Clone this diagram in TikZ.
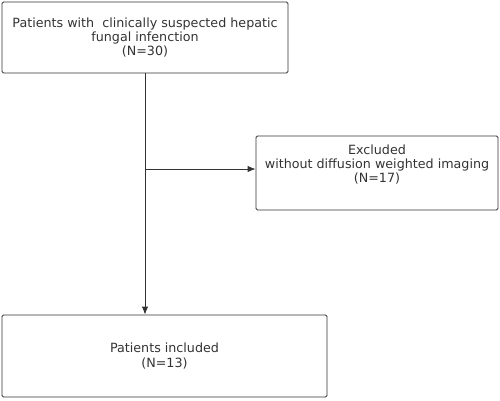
\documentclass[tikz,border=0pt]{standalone}
\usepackage{fontspec}
\setmainfont{DejaVu Sans}
\usepackage{tikz}
\usetikzlibrary{arrows.meta}

\begin{document}
\begin{tikzpicture}[
    x=1pt, y=-1pt,
    box/.style={rectangle, draw=black!80, line width=0.9pt, rounded corners=1.5pt, align=center, font=\fontsize{12.7}{14.2}\selectfont, text=black!80},
    arrow/.style={->, line width=0.9pt, draw=black!80},
    >={Latex[length=8pt,width=6.5pt]}
]
\useasboundingbox (0,0) rectangle (500,400);

% Boxes
\node[box, minimum width=286pt, minimum height=71pt] (suspected) at (145,37.5) {Patients with\ \ clinically suspected hepatic\\fungal infenction\\(N=30)};
\node[box, minimum width=242pt, minimum height=74pt, text depth=19pt] (excluded) at (377,173) {Excluded\\without diffusion weighted imaging\\(N=17)};
\node[box, minimum width=325pt, minimum height=82pt] (included) at (164.5,356) {Patients included\\(N=13)};

% Connections
\draw[arrow] (suspected.south) -- (suspected.south |- included.north);
\coordinate (split) at (suspected.south |- 0,169);
\draw[arrow] (split) -- (split -| excluded.west);

\end{tikzpicture}
\end{document}
